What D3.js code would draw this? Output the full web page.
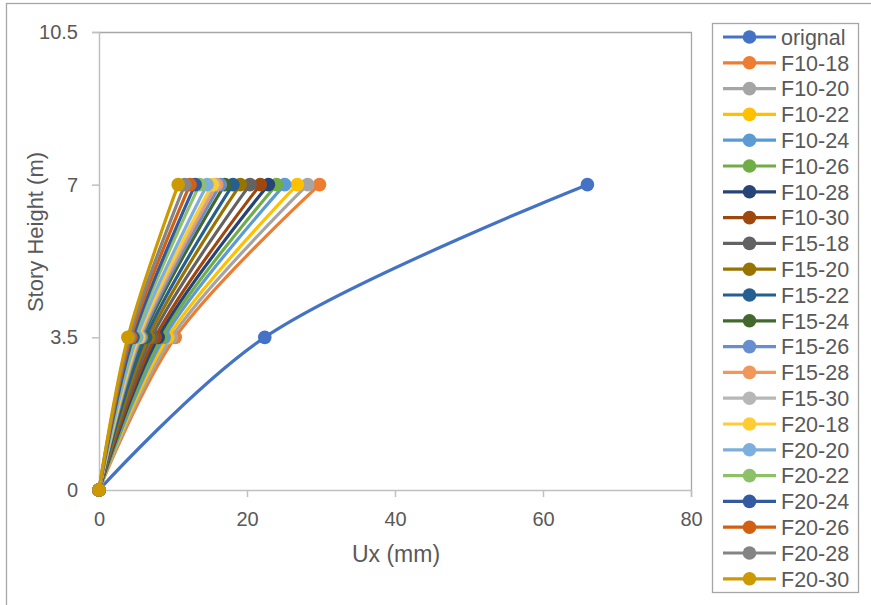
<!DOCTYPE html>
<html><head><meta charset="utf-8">
<script src="https://cdn.jsdelivr.net/npm/d3@7"></script>
<style>body{margin:0;background:#fff}svg{display:block;font-family:"Liberation Sans",Arial,sans-serif}</style>
</head><body><svg id="c" width="871" height="605"></svg>
<script>
const heights = [0, 3.5, 7];
const seriesNames = ["orignal","F10-18","F10-20","F10-22","F10-24","F10-26","F10-28","F10-30",
  "F15-18","F15-20","F15-22","F15-24","F15-26","F15-28","F15-30",
  "F20-18","F20-20","F20-22","F20-24","F20-26","F20-28","F20-30"];
const uxAt0 = [0,0,0,0,0,0,0,0,0,0,0,0,0,0,0,0,0,0,0,0,0,0];
const uxAt35 = [22.4,10.3,9.8,9.3,8.8,8.4,8.0,7.6,7.1,6.7,6.3,5.9,5.7,5.5,5.4,5.3,5.1,4.8,4.6,4.3,4.1,3.9];
const uxAt7 = [66.0,29.8,28.2,26.8,25.1,24.0,22.9,21.8,20.4,19.1,18.1,17.0,16.4,15.9,15.5,15.3,14.6,13.6,13.0,12.3,11.6,10.7];
const colors = ["#4472C4","#ED7D31","#A5A5A5","#FFC000","#5B9BD5","#70AD47","#264478","#9E480E",
  "#636363","#997300","#255E91","#43682B","#698ED0","#F1975A","#B7B7B7",
  "#FFCD33","#7CAFDD","#8CC168","#335AA1","#D26012","#848484","#CC9A00"];
const xTicks = [0,20,40,60,80];
const yTicks = [0,3.5,7,10.5];

const svg = d3.select("#c");
const txt = "#595959", border = "#A6A6A6", axisCol = "#C0C0C0";
// outer chart border
svg.append("rect").attr("x",6.5).attr("y",3.5).attr("width",880).attr("height",620)
  .attr("fill","none").attr("stroke",border).attr("stroke-width",1.3);

const x = d3.scaleLinear().domain([0,80]).range([99,691]);
const y = d3.scaleLinear().domain([0,10.5]).range([490,32]);

// plot border top/right
svg.append("path").attr("d",`M${x(0)},${y(10.5)+0.5}H${x(80)+0.5}V${y(0)}`)
  .attr("fill","none").attr("stroke",border).attr("stroke-width",1.3);

const gx = svg.append("g").attr("transform",`translate(0,${y(0)})`)
  .call(d3.axisBottom(x).tickValues(xTicks).tickSize(7).tickPadding(15).tickFormat(d3.format("d")));
const gy = svg.append("g").attr("transform",`translate(${x(0)},0)`)
  .call(d3.axisLeft(y).tickValues(yTicks).tickSize(7).tickPadding(14).tickFormat(d=>String(d)));
[gx,gy].forEach(g=>{
  g.select(".domain").attr("stroke",axisCol).attr("stroke-width",1.5);
  g.selectAll(".tick line").attr("stroke",axisCol).attr("stroke-width",1.5);
  g.selectAll("text").attr("fill",txt).attr("font-size",20).attr("font-family","Liberation Sans, Arial, sans-serif");
});

svg.append("text").attr("x",396).attr("y",562).attr("text-anchor","middle")
  .attr("fill",txt).attr("font-size",23).text("Ux (mm)");
svg.append("text").attr("transform","translate(43,232) rotate(-90)").attr("text-anchor","middle")
  .attr("fill",txt).attr("font-size",22).text("Story Height (m)");

const series = seriesNames.map((n,i)=>({name:n,color:colors[i],
  pts:[[uxAt0[i],heights[0]],[uxAt35[i],heights[1]],[uxAt7[i],heights[2]]]}));
const line = d3.line().x(d=>x(d[0])).y(d=>y(d[1])).curve(d3.curveCatmullRom.alpha(0.5));
const plot = svg.append("g");
series.forEach(s=>{
  const g = plot.append("g");
  g.append("path").attr("d",line(s.pts)).attr("fill","none").attr("stroke",s.color)
    .attr("stroke-width",3.2).attr("stroke-linejoin","round").attr("stroke-linecap","round");
  g.selectAll("circle").data(s.pts).join("circle")
    .attr("cx",d=>x(d[0])).attr("cy",d=>y(d[1])).attr("r",6.8).attr("fill",s.color);
});

// legend
svg.append("rect").attr("x",712.5).attr("y",23.5).attr("width",146).attr("height",569)
  .attr("fill","#fff").attr("stroke",border).attr("stroke-width",1.3);
const lg = svg.append("g");
series.forEach((s,i)=>{
  const cy = 37 + i*25.8;
  lg.append("line").attr("x1",723).attr("x2",776).attr("y1",cy).attr("y2",cy)
    .attr("stroke",s.color).attr("stroke-width",3.2);
  lg.append("circle").attr("cx",749.5).attr("cy",cy).attr("r",6.8).attr("fill",s.color);
  lg.append("text").attr("x",781).attr("y",cy).attr("dy","0.36em").attr("fill",txt)
    .attr("font-size",21.5).text(s.name);
});
</script></body></html>
